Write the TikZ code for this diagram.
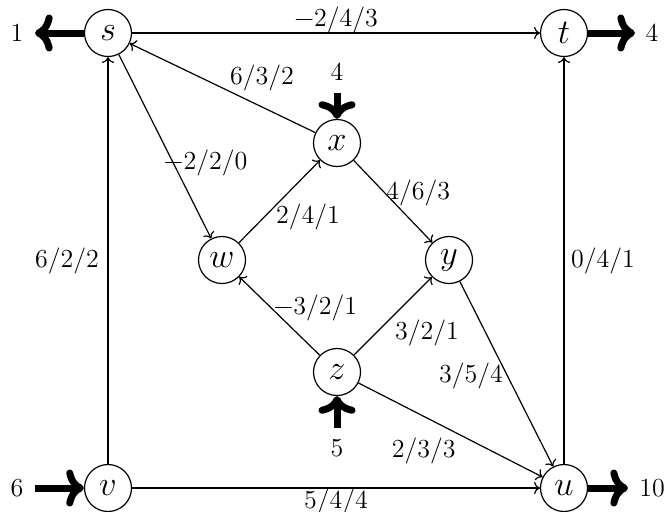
\documentclass[tikz,border=0pt]{standalone}
\usetikzlibrary{arrows.meta}
\begin{document}
\begin{tikzpicture}[x={(0.5pt,0)},y={(0,-0.5pt)},
  vtx/.style={draw,circle,line width=0.6pt,minimum size=23.5pt,inner sep=0pt,font=\LARGE},
  edge/.style={->,line width=0.6pt},
  bigarrow/.style={-{To[scale=0.95]},line width=3.5pt},
  lbl/.style={inner sep=3.3pt,font=\fontsize{13}{15}\selectfont}]
\useasboundingbox (0,0) rectangle (667,511);
\node[vtx] (s) at (108,33) {$s$};
\node[vtx] (t) at (564,33) {$t$};
\node[vtx] (x) at (337,143) {$x$};
\node[vtx] (w) at (222,260) {$w$};
\node[vtx] (y) at (449,260) {$y$};
\node[vtx] (z) at (337,372) {$z$};
\node[vtx] (v) at (108,488) {$v$};
\node[vtx] (u) at (564,488) {$u$};
% edges
\draw[edge] (s) -- node[midway,above,lbl,yshift=-3.5pt] {−2/4/3} (t);
\draw[edge] (x) -- node[pos=0.32,above,lbl,yshift=3pt,xshift=3pt] {6/3/2} (s);
\draw[edge] (s) -- node[pos=0.56,anchor=west,lbl,xshift=-7pt,yshift=-2.5pt] {−2/2/0} (w);
\draw[edge] (w) -- node[pos=0.37,anchor=west,lbl,xshift=0pt,yshift=-2.5pt] {2/4/1} (x);
\draw[edge] (x) -- node[pos=0.40,anchor=west,lbl,xshift=-3pt] {4/6/3} (y);
\draw[edge] (v) -- node[midway,left,lbl,xshift=-1pt] {6/2/2} (s);
\draw[edge] (u) -- node[midway,right,lbl] {0/4/1} (t);
\draw[edge] (z) -- node[pos=0.6,anchor=west,lbl,xshift=-2.5pt] {−3/2/1} (w);
\draw[edge] (z) -- node[pos=0.357,anchor=west,lbl,xshift=3pt,yshift=-3pt] {3/2/1} (y);
\draw[edge] (y) -- node[pos=0.5,anchor=east,lbl,xshift=1.8pt,yshift=-1pt] {3/5/4} (u);
\draw[edge] (z) -- node[pos=0.366,anchor=north,lbl,yshift=-6.5pt,xshift=-1pt] {2/3/3} (u);
\draw[edge] (v) -- node[midway,below,lbl,yshift=3pt] {5/4/4} (u);
% supplies / demands
\coordinate (sout) at (35,33);
\coordinate (tout) at (635,33);
\coordinate (xin) at (337,93);
\coordinate (zin) at (337,428);
\coordinate (vin) at (35,488);
\coordinate (uout) at (628,488);
\draw[bigarrow] (s) -- (sout);
\draw[bigarrow] (t) -- (tout);
\draw[bigarrow] (xin) -- (x);
\draw[bigarrow] (zin) -- (z);
\draw[bigarrow] (vin) -- (v);
\draw[bigarrow] (u) -- (uout);
\node[lbl] (sl) at (17,33) {1};
\node[lbl] (tl) at (652,33) {4};
\node[lbl] (xl) at (337,72) {4};
\node[lbl] (zl) at (337,448) {5};
\node[lbl] (vl) at (17,488) {6};
\node[lbl] (ul) at (652,488) {10};
\end{tikzpicture}
\end{document}
